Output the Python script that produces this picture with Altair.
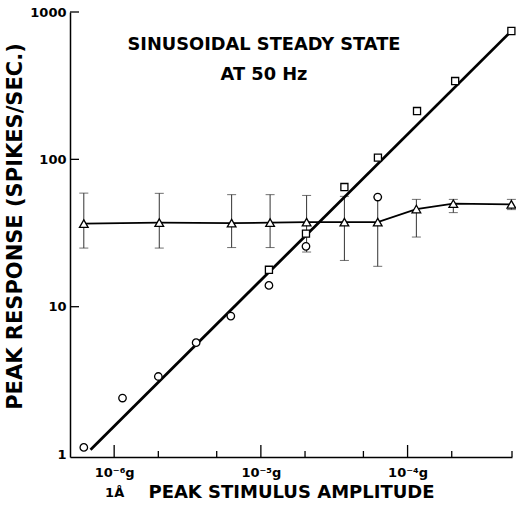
import altair as alt
import pandas as pd

# ---- data ----
sq_x = [1.135e-5, 2.03e-5, 3.71e-5, 6.28e-5, 1.16e-4, 2.11e-4, 5.1e-4]
sq_y = [17.8, 31.3, 64.9, 102.8, 212.8, 340, 743]

circ_x = [6.21e-7, 1.14e-6, 2.0e-6, 3.62e-6, 6.24e-6, 1.135e-5, 2.03e-5, 6.26e-5]
circ_y = [1.11, 2.40, 3.36, 5.70, 8.64, 13.95, 25.7, 55.5]

tri_x = [6.21e-7, 2.03e-6, 6.32e-6, 1.156e-5, 2.05e-5, 3.71e-5, 6.26e-5, 1.148e-4, 2.05e-4, 5.1e-4]
tri_y = [36.6, 37.2, 36.9, 37.2, 37.5, 37.5, 37.5, 46.0, 50.0, 49.5]
tri_hi = [59.0, 58.8, 57.6, 57.6, 56.9, 56.1, 55.5, 53.5, 53.5, 53.5]
tri_lo = [25.0, 25.0, 25.2, 25.2, 23.5, 20.6, 18.8, 29.7, 43.5, 45.6]

fit_x = [6.9e-7, 5.1e-4]
fit_y = [1.07, 743]

x_major = [1e-6, 1e-5, 1e-4]
x_minor = [2e-6, 5e-6, 2e-5, 5e-5, 2e-4, 5.15e-4]
y_major = [10, 100, 1000]

title_lines = ["SINUSOIDAL STEADY STATE", "AT 50 Hz"]

FONT = "DejaVu Sans"

sq = pd.DataFrame({"x": sq_x, "y": sq_y})
circ = pd.DataFrame({"x": circ_x, "y": circ_y})
tri = pd.DataFrame({"x": tri_x, "y": tri_y, "hi": tri_hi, "lo": tri_lo})
fit = pd.DataFrame({"x": fit_x, "y": fit_y})
xmaj = pd.DataFrame({"x": x_major})
xmin = pd.DataFrame({"x": x_minor})
ymaj = pd.DataFrame({"y": y_major})

xscale = alt.Scale(type="log", domain=[5e-7, 5.15e-4], nice=False)
yscale = alt.Scale(type="log", domain=[0.955, 1000], nice=False)

xaxis = alt.Axis(
    values=x_major,
    ticks=False,
    grid=False,
    domainColor="black",
    domainWidth=1.5,
    labelExpr="datum.value < 2e-6 ? ['10⁻⁶g', '1Å'] : (datum.value < 2e-5 ? '10⁻⁵g' : '10⁻⁴g')",
    labelFont=FONT,
    labelFontWeight="bold",
    labelFontSize=13,
    labelColor="black",
    labelPadding=9,
    labelLineHeight=20,
    labelBaseline="top",
    title="PEAK STIMULUS AMPLITUDE",
    titleFont=FONT,
    titleFontWeight="bold",
    titleFontSize=18,
    titleColor="black",
    titleBaseline="alphabetic",
    titleY=40,
)
yaxis = alt.Axis(
    values=[1, 10, 100, 1000],
    ticks=False,
    grid=False,
    domainColor="black",
    domainWidth=1.5,
    labelExpr="format(datum.value, 'd')",
    labelFont=FONT,
    labelFontWeight="bold",
    labelFontSize=13,
    labelColor="black",
    labelPadding=4,
    title="PEAK RESPONSE (SPIKES/SEC.)",
    titleFont=FONT,
    titleFontWeight="bold",
    titleFontSize=21,
    titleColor="black",
    titleAngle=270,
    titleBaseline="alphabetic",
    titleX=-49,
    titleY=214,
)

X = lambda f="x": alt.X(f"{f}:Q", scale=xscale, axis=xaxis)
Y = lambda f="y": alt.Y(f"{f}:Q", scale=yscale, axis=yaxis)

# error bars
err_rule = alt.Chart(tri).mark_rule(color="#333333", strokeWidth=1).encode(
    x=X(), y=Y("lo"), y2="hi:Q"
)
cap_hi = alt.Chart(tri).mark_tick(color="#333333", orient="horizontal", size=9, thickness=1).encode(
    x=X(), y=Y("hi")
)
cap_lo = alt.Chart(tri).mark_tick(color="#333333", orient="horizontal", size=9, thickness=1).encode(
    x=X(), y=Y("lo")
)

tri_line = alt.Chart(tri).mark_line(color="black", strokeWidth=1.8).encode(x=X(), y=Y())
fit_line = alt.Chart(fit).mark_line(color="black", strokeWidth=2.8).encode(x=X(), y=Y())

sq_pts = alt.Chart(sq).mark_point(shape="square", size=50, filled=True, fill="white",
                                   stroke="black", strokeWidth=1.3, opacity=1).encode(x=X(), y=Y())
circ_pts = alt.Chart(circ).mark_point(shape="circle", size=56, filled=True, fill="white",
                                       stroke="black", strokeWidth=1.3, opacity=1).encode(x=X(), y=Y())
tri_pts = alt.Chart(tri).mark_point(shape="triangle-up", size=75, filled=True, fill="white",
                                     stroke="black", strokeWidth=1.3, opacity=1).encode(x=X(), y=Y())

# inward axis ticks
xmaj_ticks = alt.Chart(xmaj).mark_rule(color="black", strokeWidth=1.3).encode(
    x=X(), y=alt.value(445), y2=alt.value(433)
)
xmin_ticks = alt.Chart(xmin).mark_rule(color="black", strokeWidth=1.3).encode(
    x=X(), y=alt.value(445), y2=alt.value(439)
)
ymaj_ticks = alt.Chart(ymaj).mark_rule(color="black", strokeWidth=1.3).encode(
    y=Y(), x=alt.value(0), x2=alt.value(9)
)

t1 = alt.Chart(pd.DataFrame({"t": [title_lines[0]]})).mark_text(
    font=FONT, fontWeight="bold", fontSize=17.8, color="black", baseline="alphabetic", align="center"
).encode(text="t:N", x=alt.value(194), y=alt.value(38))
t2 = alt.Chart(pd.DataFrame({"t": [title_lines[1]]})).mark_text(
    font=FONT, fontWeight="bold", fontSize=17.8, color="black", baseline="alphabetic", align="center"
).encode(text="t:N", x=alt.value(194), y=alt.value(68))

chart = alt.layer(
    err_rule, cap_hi, cap_lo, tri_line, fit_line, sq_pts, circ_pts, tri_pts,
    xmaj_ticks, xmin_ticks, ymaj_ticks, t1, t2
).properties(
    width=442,
    height=445,
    padding={"left": 70, "top": 12, "right": 4, "bottom": 53},
    autosize=alt.AutoSizeParams(type="none"),
    background="white",
).configure_view(stroke=None)

chart.save("out.html", embed_options={"renderer": "svg", "actions": False})
